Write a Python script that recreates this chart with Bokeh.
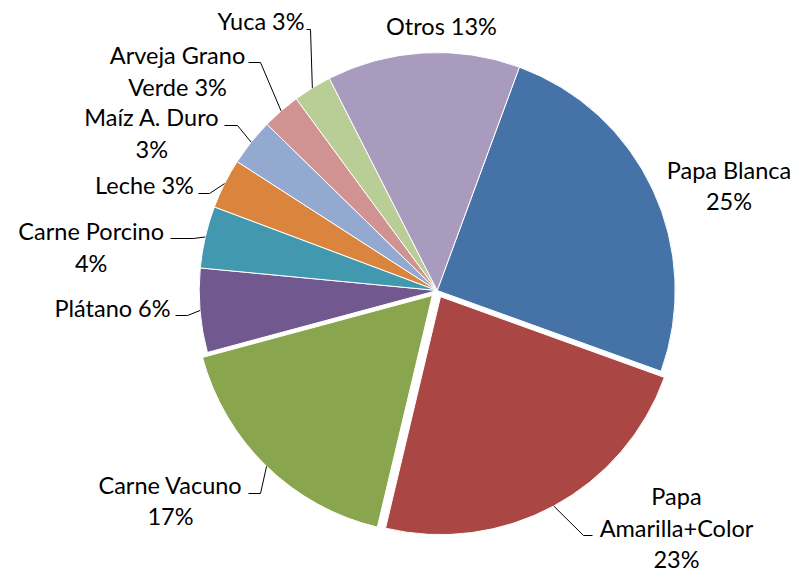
import math
from bokeh.plotting import figure
from bokeh.models import Range1d, ColumnDataSource
from bokeh.core.properties import value
from bokeh.embed import file_html
from bokeh.resources import INLINE

# ---- data ----
categories = ["Papa Blanca", "Papa Amarilla+Color", "Carne Vacuno", "Plátano",
              "Carne Porcino", "Leche", "Maíz A. Duro", "Arveja Grano Verde",
              "Yuca", "Otros"]
values = [24.9, 23.2, 17.1, 5.7, 4.2, 3.4, 3.2, 2.6, 2.6, 13.1]
label_lines = [["Papa Blanca", "{p}"],
               ["Papa", "Amarilla+Color", "{p}"],
               ["Carne Vacuno", "{p}"],
               ["Plátano {p}"],
               ["Carne Porcino", "{p}"],
               ["Leche {p}"],
               ["Maíz A. Duro", "{p}"],
               ["Arveja Grano", "Verde {p}"],
               ["Yuca {p}"],
               ["Otros {p}"]]

# ---- styles / layout ----
colors = ["#4572A7", "#AA4643", "#89A54E", "#71588F", "#4198AF",
          "#DB843D", "#93A9CF", "#D19392", "#B9CD96", "#A99BBD"]
explode = [0, 7, 7, 0, 0, 0, 0, 0, 0, 0]
CX, CY, R = 436.7, 290.0, 238.0      # picture pixels
START = 20.2                         # degrees clockwise from 12 o'clock
FONT = "Lato"
FS = "23.5px"
LH = 31.5
TEXT_SHIFT = -9.5                    # baseline correction
# label: (center x, first baseline y) in picture pixels
label_pos = [(728.5, 178.5), (676, 505), (170, 493.5), (112, 316.5),
             (90.7, 240), (144, 194), (151.3, 126), (177, 64),
             (260.5, 30), (441, 35)]
# leader polyline points before the arc point (picture pixels)
leaders = [None,
           [(592, 535), (583, 535)],
           [(248, 493), (260, 493)],
           [(175, 315), (187, 315)],
           [(170, 238), (193, 238)],
           [(198, 193), (209, 193)],
           [(224, 125), (237, 125)],
           [(248, 62), (260, 62)],
           [(306, 29), (310, 29)],
           None]

W, H = 796, 568


def Y(py):
    return 568 - py


p = figure(width=W, height=H, output_backend="svg", toolbar_location=None,
           x_range=Range1d(0, W), y_range=Range1d(568 - H, 568),
           min_border=0)
p.axis.visible = False
p.grid.visible = False
p.outline_line_color = None
p.background_fill_color = "white"
p.border_fill_color = "white"

total = sum(values)
theta = START
xs, ys, sa, ea, mids = [], [], [], [], []
for v, e in zip(values, explode):
    span = v / total * 360.0
    t0, t1 = theta, theta + span
    tm = (t0 + t1) / 2
    mids.append(tm)
    xs.append(CX + e * math.sin(math.radians(tm)))
    ys.append(Y(CY) + e * math.cos(math.radians(tm)))
    sa.append(math.radians(90 - t0))
    ea.append(math.radians(90 - t1))
    theta = t1

src = ColumnDataSource(dict(x=xs, y=ys, start=sa, end=ea, color=colors,
                            cat=categories))
p.wedge(x="x", y="y", radius=R, start_angle="start", end_angle="end",
        direction="clock", fill_color="color", line_color="white",
        line_width=1, source=src)

# leader lines
lx, ly = [], []
for i, pts in enumerate(leaders):
    if pts is None:
        continue
    tm = math.radians(mids[i])
    ax = xs[i] + R * math.sin(tm)
    ay = ys[i] + R * math.cos(tm)
    lx.append([q[0] for q in pts] + [ax])
    ly.append([Y(q[1]) for q in pts] + [ay])
p.multi_line(xs=lx, ys=ly, line_color="black", line_width=1)

# labels
tx, ty, tt = [], [], []
for i, lines in enumerate(label_lines):
    pct = f"{values[i] / total * 100:.0f}%"
    cx, by = label_pos[i]
    for k, ln in enumerate(lines):
        tx.append(cx)
        ty.append(Y(by + k * LH + TEXT_SHIFT))
        tt.append(ln.replace("{p}", pct))
p.text(x=tx, y=ty, text=tt, text_align="center", text_baseline="alphabetic",
       text_font=value(FONT), text_font_size=FS, text_color="black")

open("out.html", "w").write(file_html(p, INLINE))
